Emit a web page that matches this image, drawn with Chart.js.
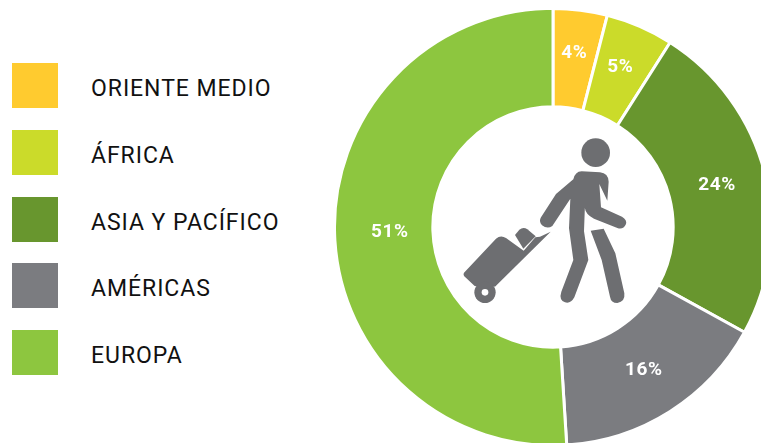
<!DOCTYPE html>
<html><head><meta charset="utf-8">
<script src="https://cdn.jsdelivr.net/npm/chart.js@4"></script>
<style>
html,body{margin:0;padding:0;width:761px;height:443px;overflow:hidden;background:#fff}
#wrap{position:relative;width:761px;height:443px;overflow:hidden}
canvas{position:absolute;left:333px;top:7px}
#legend{position:absolute;left:12px;top:63px;margin:0;padding:0;list-style:none}
#legend li{height:45px;margin-bottom:21.75px;display:flex;align-items:center;font:400 23px Roboto,sans-serif;letter-spacing:.95px;color:#111;white-space:nowrap}
#legend i{display:block;width:46px;height:45px;margin-right:33px}
#legend span{position:relative;top:3px}
</style></head><body>
<div id="wrap"><ul id="legend"></ul><canvas id="c" width="440" height="440" style="width:440px;height:440px"></canvas></div>
<script>
const categories=["ORIENTE MEDIO","ÁFRICA","ASIA Y PACÍFICO","AMÉRICAS","EUROPA"];
const shares=[4,5,24,16,51];
const palette=["#FFCB2F","#CBDB2A","#68962E","#7B7C80","#8DC63F"];
const legendEl=document.getElementById('legend');
categories.forEach((c,i)=>{const li=document.createElement('li');const b=document.createElement('i');b.style.background=palette[i];const s=document.createElement('span');s.textContent=c;li.append(b,s);legendEl.append(li);});
const labelNudge=[[0,-6],[0,-4],[0,0],[0,0],[6,0]];
const sliceLabels={id:'sliceLabels',afterDatasetsDraw(ch){
  const ctx=ch.ctx;ctx.save();ctx.fillStyle='#fff';ctx.font='700 19px Roboto,sans-serif';ctx.letterSpacing='0.6px';ctx.textAlign='center';ctx.textBaseline='middle';
  ch.getDatasetMeta(0).data.forEach((a,i)=>{const p=a.tooltipPosition();ctx.fillText(shares[i]+'%',p.x+labelNudge[i][0],p.y+labelNudge[i][1]);});
  ctx.restore();
}};
const traveller={id:'traveller',afterDraw(ch){
  const a=ch.getDatasetMeta(0).data[0],ctx=ch.ctx;ctx.save();
  ctx.translate(a.x-113,a.y-107);ctx.scale(1/3,1/3);
  ctx.fillStyle=ctx.strokeStyle='#6D6E71';ctx.lineCap='round';ctx.lineJoin='round';
  ctx.beginPath();ctx.arc(467,98,43,0,Math.PI*2);ctx.fill();
  ctx.fill(new Path2D('M400 178Q405 155 425 154L480 157Q505 160 506 185L502 242L478 192L483 262L546 290Q562 300 558 312Q550 330 532 324L462 296Q437 285 434 262L437 198L432 334L445 420L403 532Q392 552 375 547Q356 540 364 515L400 420L387 325L391 236L337 318Q322 328 306 316Q295 305 303 292L348 222Z'));
  ctx.fill(new Path2D('M452 332L491 326L526 400L553 520Q556 545 532 549Q513 549 510 530L485 420Z'));
  ctx.fill(new Path2D('M72 458L168 356Q182 344 198 354L251 392L286 352L300 350L332 335L165 500Q140 490 120 500L104 498L76 472Q68 465 72 458Z'));
  ctx.fill(new Path2D('M225 345L238 329Q250 320 262 328L287 349L250 386Z'));
  ctx.beginPath();ctx.arc(135,517,32,0,Math.PI*2);ctx.fill();
  ctx.fillStyle='#fff';ctx.beginPath();ctx.arc(135,517,10,0,Math.PI*2);ctx.fill();
  ctx.restore();
}};
new Chart(document.getElementById('c'),{type:'doughnut',data:{labels:categories,datasets:[{data:shares,backgroundColor:palette,borderColor:'#fff',borderWidth:3}]},
options:{responsive:false,animation:false,cutout:'55%',rotation:0,layout:{padding:0},plugins:{legend:{display:false},tooltip:{enabled:false}}},plugins:[sliceLabels,traveller]});
</script></body></html>
